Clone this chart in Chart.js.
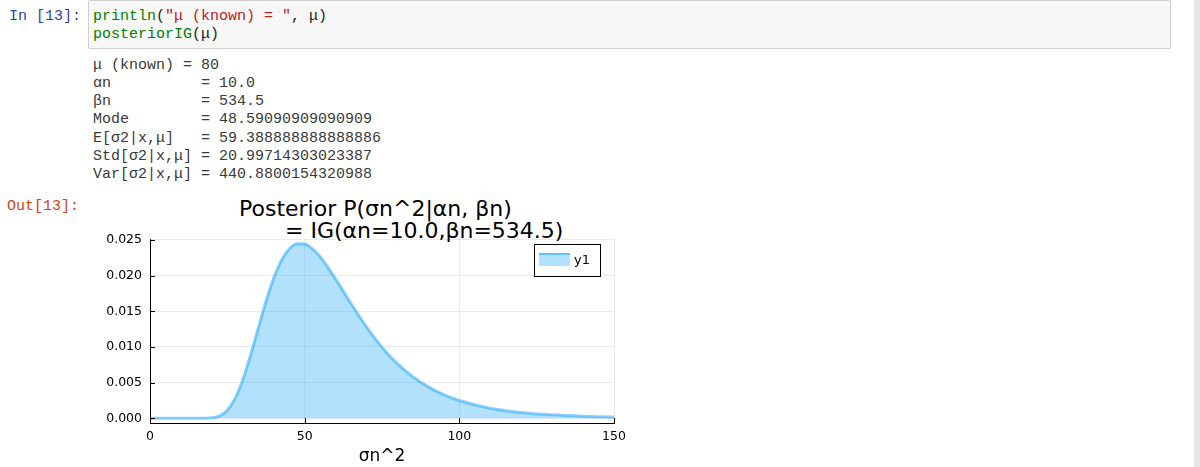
<!DOCTYPE html>
<html>
<head>
<meta charset="utf-8">
<script src="https://cdn.jsdelivr.net/npm/chart.js@4.4.1/dist/chart.umd.min.js"></script>
<style>
  html, body { margin: 0; padding: 0; background: #fff; }
  body { width: 1200px; height: 467px; overflow: hidden; position: relative; }
  .mono { font-family: "Liberation Mono", "DejaVu Sans Mono", monospace; font-size: 15px; white-space: pre; position: absolute; margin: 0; }
  .prompt-in { left: 9px; top: 8px; color: #303F9F; line-height: 17.5px; }
  .prompt-out { left: 7px; top: 197.5px; color: #D84315; line-height: 17.5px; }
  .code-box { position: absolute; left: 88px; top: 0px; width: 1081px; height: 47px; background: #f7f7f7; border: 1px solid #cfcfcf; border-radius: 2px; }
  .code { left: 93px; top: 8px; line-height: 17.5px; color: #222; }
  .kw { color: #008000; }
  .str { color: #BA2121; }
  .out { left: 93px; top: 57px; line-height: 18.15px; color: #3a3a3a; }
  .title { position: absolute; font-family: "DejaVu Sans", sans-serif; font-size: 22px; line-height: 22px; color: #000; white-space: pre; }
  #wrap { position: absolute; left: 80px; top: 195px; width: 570px; height: 272px; }
  .scroll { position: absolute; left: 1194px; top: 0; width: 6px; height: 467px; background: #e6e6e6; }
</style>
</head>
<body>
<div class="mono prompt-in">In [13]:</div>
<div class="code-box"></div>
<div class="mono code"><span class="kw">println</span>(<span class="str">"μ (known) = "</span>, μ)
<span class="kw">posteriorIG</span>(μ)</div>
<div class="mono out">μ (known) = 80
αn          = 10.0
βn          = 534.5
Mode        = 48.59090909090909
E[σ2|x,μ]   = 59.388888888888886
Std[σ2|x,μ] = 20.99714303023387
Var[σ2|x,μ] = 440.8800154320988</div>
<div class="mono prompt-out">Out[13]:</div>
<div class="title" style="left:239px; top:198px;">Posterior P(σn^2|αn, βn)</div>
<div class="title" style="left:285px; top:220px;">= IG(αn=10.0,βn=534.5)</div>
<div id="wrap"><canvas id="plot" width="570" height="272"></canvas></div>
<div class="scroll"></div>

<script>
// values
const sigma2 = [0, 5, 10, 15, 17.5, 20, 22.5, 25, 27.5, 30, 32.5, 35, 37.5, 40, 42.5, 45, 47.5, 50,
                52.5, 55, 57.5, 60, 65, 70, 75, 80, 85, 90, 95, 100, 110, 120, 130, 140, 150];
const density = [0, 0, 0, 0.0000002, 0.000006, 0.000063, 0.00034, 0.00114, 0.00279, 0.00541, 0.00884,
                 0.01266, 0.01642, 0.01965, 0.02215, 0.02373, 0.02447, 0.02445, 0.02378, 0.02264,
                 0.02117, 0.01954, 0.01608, 0.01281, 0.00997, 0.00766, 0.00582, 0.00440, 0.00332,
                 0.00250, 0.00142, 0.00082, 0.00048, 0.00028, 0.00017];
const xTicks = [0, 50, 100, 150];
const yTicks = [0, 0.005, 0.010, 0.015, 0.020, 0.025];
const seriesName = 'y1';

const lineColor = 'rgba(0, 154, 250, 0.45)';
const fillColor = 'rgba(0, 154, 250, 0.30)';

// Plots.jl style: inward tick marks + boxed legend in the top-right corner
const plotsExtras = {
  id: 'plotsExtras',
  afterDraw(chart) {
    const ctx = chart.ctx;
    const area = chart.chartArea;
    const xs = chart.scales.x;
    const ys = chart.scales.y;
    ctx.save();
    ctx.strokeStyle = '#000';
    ctx.lineWidth = 1;
    ctx.beginPath();
    yTicks.forEach(v => {
      const py = Math.round(ys.getPixelForValue(v)) + 0.5;
      ctx.moveTo(area.left, py);
      ctx.lineTo(area.left + 5, py);
    });
    xTicks.forEach(v => {
      const px = Math.round(xs.getPixelForValue(v)) + 0.5;
      ctx.moveTo(px, area.bottom);
      ctx.lineTo(px, area.bottom - 5);
    });
    ctx.stroke();

    // legend
    const bw = 66, bh = 32;
    const bx = area.right - 14 - bw;
    const by = area.top + 5;
    ctx.fillStyle = '#fff';
    ctx.fillRect(bx, by, bw, bh);
    ctx.strokeRect(bx + 0.5, by + 0.5, bw, bh);
    const ds = chart.data.datasets[0];
    ctx.fillStyle = ds.backgroundColor;
    ctx.fillRect(bx + 5, by + 9, 31, 13);
    ctx.fillStyle = ds.borderColor;
    ctx.fillRect(bx + 5, by + 9, 31, 2);
    ctx.fillStyle = '#000';
    ctx.font = '13px "DejaVu Sans"';
    ctx.textBaseline = 'middle';
    ctx.fillText(ds.label, bx + 40, by + 17);
    ctx.restore();
  }
};

const ctx = document.getElementById('plot').getContext('2d');
new Chart(ctx, {
  type: 'line',
  data: {
    labels: sigma2,
    datasets: [{
      label: seriesName,
      data: sigma2.map((x, i) => ({ x: x, y: density[i] })),
      borderColor: lineColor,
      backgroundColor: fillColor,
      borderWidth: 3,
      fill: 'origin',
      pointRadius: 0,
      cubicInterpolationMode: 'monotone'
    }]
  },
  options: {
    responsive: false,
    animation: false,
    layout: { padding: { top: 44, right: 36, left: 0, bottom: 0 } },
    plugins: {
      legend: { display: false },
      tooltip: { enabled: false }
    },
    scales: {
      x: {
        type: 'linear',
        min: 0,
        max: 150,
        afterBuildTicks: s => { s.ticks = xTicks.map(v => ({ value: v })); },
        afterFit: s => { s.height = 44; },
        ticks: {
          color: '#000',
          font: { family: 'DejaVu Sans', size: 12.5 },
          padding: 6,
          maxRotation: 0,
          autoSkip: false
        },
        grid: { color: 'rgba(0,0,0,0.08)', drawTicks: false },
        border: { display: true, color: '#000', width: 1 },
        title: {
          display: true,
          text: 'σn^2',
          color: '#000',
          font: { family: 'DejaVu Sans', size: 17 },
          padding: { top: 0, bottom: 0 }
        }
      },
      y: {
        min: -0.00066,
        max: 0.02514,
        afterBuildTicks: s => { s.ticks = yTicks.map(v => ({ value: v })); },
        afterFit: s => { s.width = 70; },
        ticks: {
          color: '#000',
          font: { family: 'DejaVu Sans', size: 12.5 },
          padding: 8,
          callback: v => v.toFixed(3)
        },
        grid: { color: 'rgba(0,0,0,0.08)', drawTicks: false },
        border: { display: true, color: '#000', width: 1 }
      }
    }
  },
  plugins: [plotsExtras]
});
</script>
</body>
</html>
